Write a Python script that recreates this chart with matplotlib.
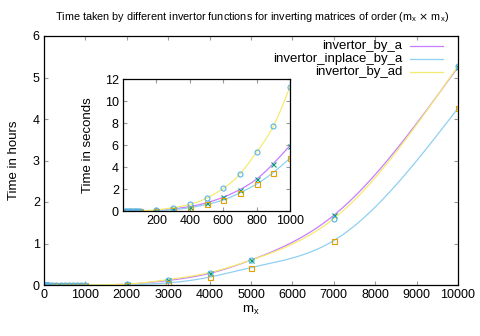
import numpy as np
import matplotlib
matplotlib.use("Agg")
import matplotlib.pyplot as plt

plt.rcParams['font.family'] = ['Liberation Sans', 'DejaVu Sans']

# Data (seconds) for small matrices
m_small = [10, 20, 30, 40, 50, 60, 70, 80, 90, 100, 200, 300, 400, 500, 600, 700, 800, 900, 1000]
by_a_s = [0, 0, 0, 0, 0, 0, 0.01, 0.01, 0.01, 0.01, 0.04, 0.2, 0.4, 0.75, 1.25, 1.95, 2.9, 4.3, 5.95]
inplace_s = [0, 0, 0, 0, 0, 0, 0.01, 0.01, 0.01, 0.01, 0.03, 0.12, 0.3, 0.6, 1.0, 1.65, 2.45, 3.5, 4.8]
by_ad_s = [0, 0, 0, 0, 0, 0, 0.01, 0.01, 0.02, 0.02, 0.1, 0.3, 0.6, 1.15, 2.05, 3.35, 5.35, 7.7, 11.3]

# Data (hours) for large matrices
m_large = [2000, 3000, 4000, 5000, 7000, 10000]
by_a_h = [0.02, 0.11, 0.28, 0.6, 1.68, 5.25]
inplace_h = [0.01, 0.05, 0.19, 0.42, 1.07, 4.26]
by_ad_h = [0.02, 0.13, 0.3, 0.6, 1.6, 5.28]

labels = ['invertor_by_a', 'invertor_inplace_by_a', 'invertor_by_ad']
line_colors = ['#c77dff', '#8fd0f0', '#f5eb6e']
pt_colors = ['#009e73', '#e69f00', '#56b4e9']
markers = ['x', 's', 'o']


def spline(x, y, n=400):
    x = np.asarray(x, float)
    y = np.asarray(y, float)
    k = len(x)
    h = np.diff(x)
    A = np.zeros((k, k))
    b = np.zeros(k)
    A[0, 0] = 1
    A[-1, -1] = 1
    for i in range(1, k - 1):
        A[i, i - 1] = h[i - 1]
        A[i, i] = 2 * (h[i - 1] + h[i])
        A[i, i + 1] = h[i]
        b[i] = 3 * ((y[i + 1] - y[i]) / h[i] - (y[i] - y[i - 1]) / h[i - 1])
    c = np.linalg.solve(A, b)
    xs = np.linspace(x[0], x[-1], n)
    idx = np.clip(np.searchsorted(x, xs) - 1, 0, k - 2)
    dx = xs - x[idx]
    bb = (y[idx + 1] - y[idx]) / h[idx] - h[idx] * (2 * c[idx] + c[idx + 1]) / 3
    d = (c[idx + 1] - c[idx]) / (3 * h[idx])
    ys = y[idx] + bb * dx + c[idx] * dx ** 2 + d * dx ** 3
    return xs, ys


def style_axes(ax):
    ax.tick_params(direction='in', top=True, right=True, length=3, width=0.8,
                   color='#999999', labelsize=9, pad=3)
    for s in ax.spines.values():
        s.set_linewidth(0.9)


fig = plt.figure(figsize=(4.8, 3.36), dpi=100)
ax = fig.add_axes([44 / 480, 1 - 285 / 336, (458 - 44) / 480, (285 - 36) / 336])

small_series = [by_a_s, inplace_s, by_ad_s]
large_series = [by_a_h, inplace_h, by_ad_h]

for i in range(3):
    xs_all = list(m_small) + list(m_large)
    ys_all = [v / 3600 for v in small_series[i]] + list(large_series[i])
    xx = [0] + xs_all
    yy = [0] + ys_all
    sx, sy = spline(xx, yy, 1000)
    ax.plot(sx, sy, color=line_colors[i], lw=0.9)
for i in range(3):
    xs_all = list(m_small) + list(m_large)
    ys_all = [v / 3600 for v in small_series[i]] + list(large_series[i])
    ax.plot(xs_all, ys_all, linestyle='none', marker=markers[i], ms=3.6,
            mfc='none', mec=pt_colors[i], mew=0.8)

ax.set_xlim(0, 10000)
ax.set_ylim(0, 6)
ax.set_xticks(np.arange(0, 10001, 1000))
ax.set_yticks(np.arange(0, 7, 1))
style_axes(ax)
ax.set_xlabel('m$_\\mathregular{x}$', fontsize=9.5, labelpad=2)
ax.set_ylabel('Time in hours', fontsize=9.5, labelpad=9)
fig.text(252 / 480, 1 - 17 / 336,
         'Time taken by different invertor functions for inverting matrices of order (m$_\\mathregular{x}$ $\\times$ m$_\\mathregular{x}$)',
         fontsize=7.8, ha='center', va='center')

# Legend drawn manually (right-aligned text, line sample to the right)
leg_y = [46, 59, 72]
for i in range(3):
    fig.text(402 / 480, 1 - leg_y[i] / 336, labels[i], fontsize=9.5, ha='right', va='center')
    fig.add_artist(plt.Line2D([410 / 480, 443 / 480], [1 - leg_y[i] / 336] * 2,
                              color=line_colors[i], lw=0.9, transform=fig.transFigure))

# Inset
ax2 = fig.add_axes([123 / 480, 1 - 211 / 336, (290 - 123) / 480, (211 - 79) / 336])
for i in range(3):
    xx = [0] + list(m_small)
    yy = [0] + list(small_series[i])
    sx, sy = spline(xx, yy, 600)
    ax2.plot(sx, sy, color=line_colors[i], lw=0.9)
for i in range(3):
    ax2.plot(m_small, small_series[i], linestyle='none', marker=markers[i], ms=3.6,
             mfc='none', mec=pt_colors[i], mew=0.8)
ax2.set_xlim(0, 1000)
ax2.set_ylim(0, 12)
ax2.set_xticks([200, 400, 600, 800, 1000])
ax2.set_yticks(np.arange(0, 13, 2))
style_axes(ax2)
ax2.set_ylabel('Time in seconds', fontsize=9.5, labelpad=8)

fig.savefig('out.png', dpi=100)
